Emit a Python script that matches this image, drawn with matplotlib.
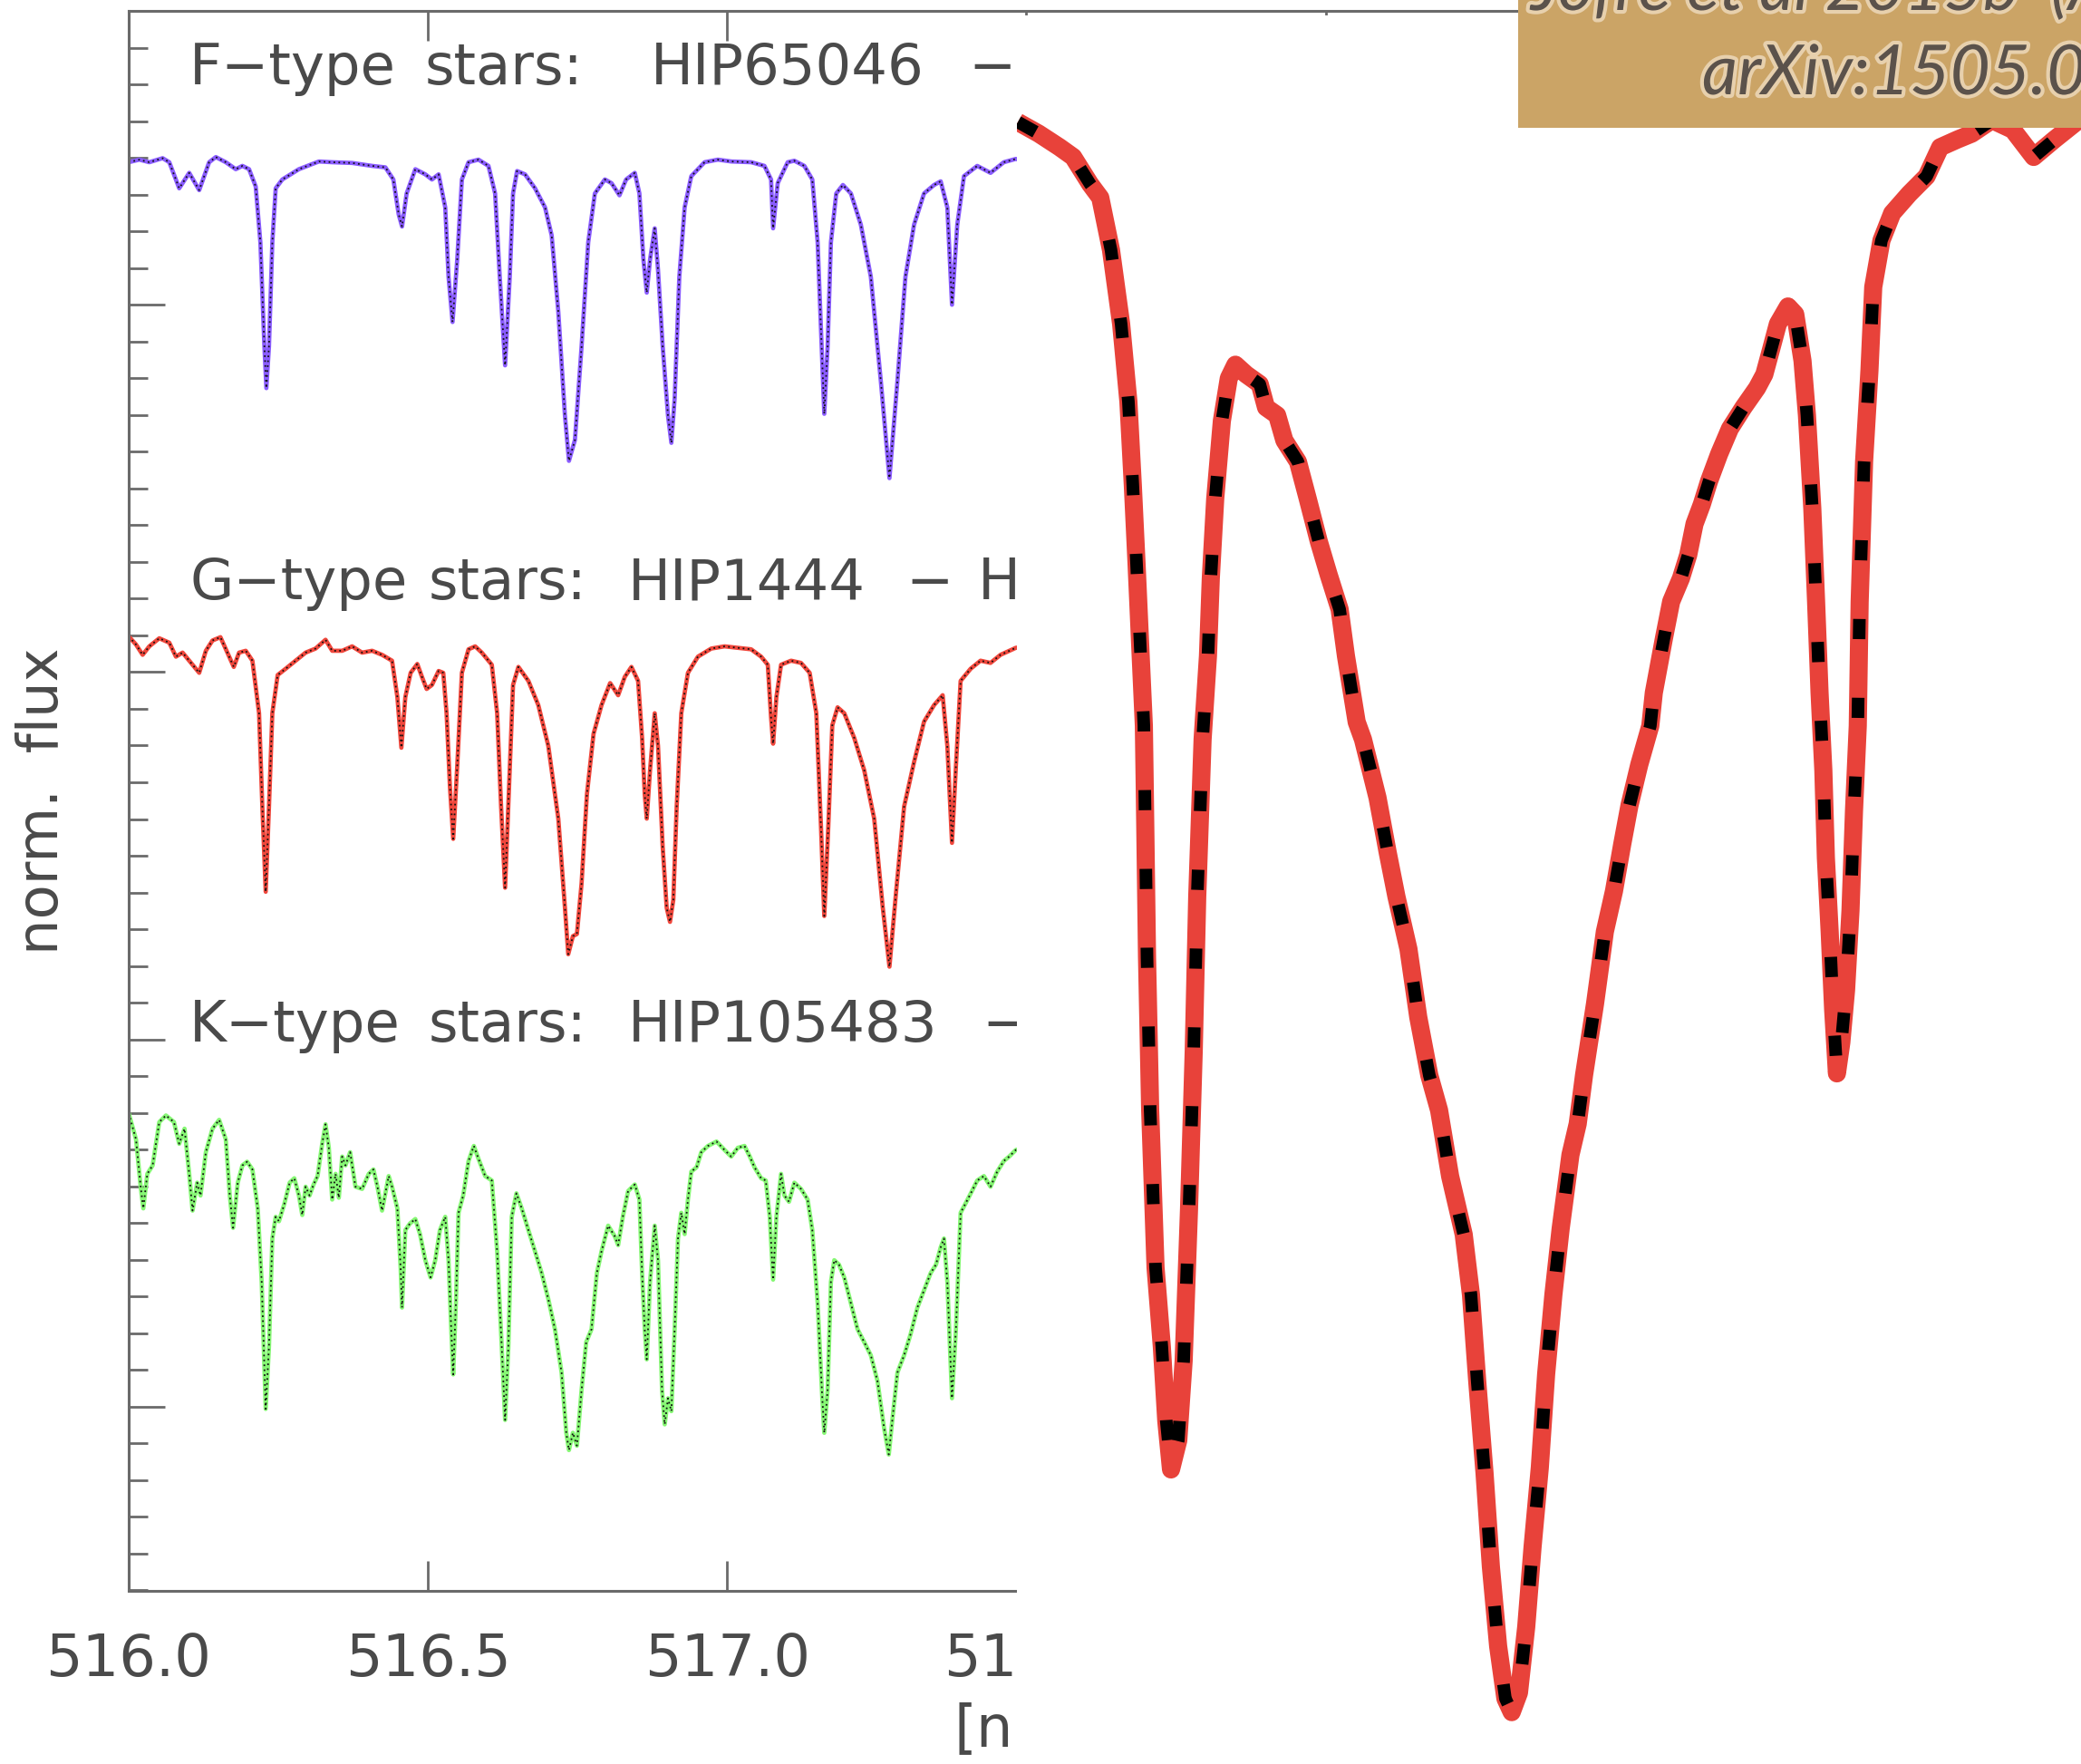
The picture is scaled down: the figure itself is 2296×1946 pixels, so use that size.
import matplotlib
matplotlib.use("Agg")
import matplotlib.pyplot as plt
import matplotlib.patheffects as pe
from matplotlib.patches import Rectangle
from matplotlib.ticker import MultipleLocator

plt.rcParams['lines.scale_dashes'] = False
plt.rcParams['font.family'] = ['DejaVu Sans']

# ---------------------------------------------------------------- data
# F-type star (HIP65046), normalised flux
F_WAVE = [516.0000, 516.0178, 516.0344, 516.0567, 516.0678, 516.0844, 516.1011, 516.1178,
          516.1344, 516.1456, 516.1622, 516.1789, 516.1900, 516.2011, 516.2122, 516.2200,
          516.2267, 516.2300, 516.2344, 516.2400, 516.2456, 516.2567, 516.2844, 516.3178,
          516.3400, 516.3733, 516.4067, 516.4289, 516.4422, 516.4511, 516.4567, 516.4644,
          516.4789, 516.4956, 516.5067, 516.5178, 516.5289, 516.5344, 516.5411, 516.5489,
          516.5567, 516.5678, 516.5844, 516.6011, 516.6122, 516.6200, 516.6289, 516.6367,
          516.6422, 516.6489, 516.6622, 516.6789, 516.6956, 516.7067, 516.7178, 516.7289,
          516.7356, 516.7456, 516.7567, 516.7678, 516.7789, 516.7956, 516.8067, 516.8200,
          516.8311, 516.8456, 516.8533, 516.8600, 516.8656, 516.8711, 516.8789, 516.8844,
          516.8922, 516.9011, 516.9067, 516.9122, 516.9200, 516.9289, 516.9400, 516.9622,
          516.9844, 517.0067, 517.0400, 517.0622, 517.0733, 517.0767, 517.0844, 517.1011,
          517.1122, 517.1289, 517.1422, 517.1511, 517.1578, 517.1622, 517.1678, 517.1733,
          517.1822, 517.1933, 517.2067, 517.2233, 517.2400, 517.2567, 517.2711, 517.2844,
          517.2978, 517.3122, 517.3289, 517.3456, 517.3567, 517.3678, 517.3756, 517.3844,
          517.3956, 517.4178, 517.4400, 517.4622, 517.4822, 517.5000]
F_FLUX = [0.988, 0.995, 0.988, 0.999, 0.988, 0.917, 0.959, 0.912,
          0.988, 1.002, 0.988, 0.969, 0.978, 0.969, 0.922, 0.770,
          0.487, 0.373, 0.487, 0.770, 0.917, 0.941, 0.969, 0.990,
          0.988, 0.986, 0.978, 0.974, 0.941, 0.846, 0.813, 0.903,
          0.969, 0.955, 0.941, 0.955, 0.865, 0.676, 0.553, 0.723,
          0.941, 0.988, 0.995, 0.978, 0.903, 0.676, 0.435, 0.676,
          0.903, 0.964, 0.955, 0.917, 0.865, 0.789, 0.581, 0.298,
          0.175, 0.232, 0.487, 0.770, 0.903, 0.941, 0.931, 0.898,
          0.941, 0.959, 0.903, 0.723, 0.633, 0.723, 0.808, 0.695,
          0.487, 0.298, 0.224, 0.345, 0.676, 0.865, 0.950, 0.988,
          0.995, 0.990, 0.988, 0.978, 0.941, 0.808, 0.931, 0.988,
          0.992, 0.978, 0.941, 0.770, 0.487, 0.303, 0.487, 0.770,
          0.903, 0.926, 0.903, 0.818, 0.676, 0.392, 0.128, 0.392,
          0.676, 0.818, 0.903, 0.926, 0.936, 0.865, 0.600, 0.818,
          0.950, 0.978, 0.959, 0.988, 0.997, 0.990]

# G-type star (HIP1444), normalised flux
G_WAVE = [516.0000, 516.0122, 516.0233, 516.0344, 516.0511, 516.0678, 516.0789, 516.0900,
          516.1011, 516.1178, 516.1289, 516.1400, 516.1533, 516.1678, 516.1756, 516.1844,
          516.1956, 516.2067, 516.2178, 516.2233, 516.2289, 516.2344, 516.2400, 516.2489,
          516.2622, 516.2789, 516.2956, 516.3122, 516.3289, 516.3400, 516.3567, 516.3733,
          516.3900, 516.4067, 516.4233, 516.4400, 516.4489, 516.4556, 516.4622, 516.4711,
          516.4822, 516.4900, 516.4978, 516.5067, 516.5178, 516.5256, 516.5311, 516.5367,
          516.5422, 516.5489, 516.5567, 516.5678, 516.5789, 516.5900, 516.6067, 516.6156,
          516.6222, 516.6289, 516.6356, 516.6422, 516.6511, 516.6678, 516.6844, 516.7011,
          516.7178, 516.7289, 516.7344, 516.7422, 516.7489, 516.7567, 516.7656, 516.7767,
          516.7900, 516.8044, 516.8178, 516.8289, 516.8400, 516.8511, 516.8578, 516.8622,
          516.8656, 516.8711, 516.8789, 516.8844, 516.8922, 516.8989, 516.9044, 516.9100,
          516.9156, 516.9233, 516.9344, 516.9511, 516.9733, 516.9956, 517.0178, 517.0400,
          517.0567, 517.0678, 517.0733, 517.0767, 517.0822, 517.0900, 517.1067, 517.1233,
          517.1378, 517.1489, 517.1567, 517.1622, 517.1689, 517.1756, 517.1844, 517.1956,
          517.2122, 517.2289, 517.2456, 517.2600, 517.2711, 517.2822, 517.2956, 517.3122,
          517.3289, 517.3456, 517.3600, 517.3678, 517.3756, 517.3822, 517.3900, 517.4067,
          517.4233, 517.4400, 517.4567, 517.4822, 517.5000]
G_FLUX = [0.997, 0.975, 0.947, 0.970, 0.992, 0.980, 0.942, 0.953,
          0.931, 0.898, 0.958, 0.986, 0.995, 0.942, 0.914, 0.953,
          0.958, 0.931, 0.788, 0.534, 0.302, 0.534, 0.788, 0.892,
          0.909, 0.931, 0.953, 0.964, 0.988, 0.958, 0.958, 0.970,
          0.953, 0.958, 0.947, 0.931, 0.832, 0.694, 0.832, 0.898,
          0.922, 0.887, 0.854, 0.865, 0.903, 0.898, 0.788, 0.589,
          0.446, 0.644, 0.898, 0.962, 0.970, 0.953, 0.920, 0.788,
          0.534, 0.313, 0.589, 0.865, 0.914, 0.876, 0.810, 0.699,
          0.501, 0.258, 0.132, 0.181, 0.187, 0.325, 0.567, 0.732,
          0.810, 0.870, 0.837, 0.887, 0.914, 0.876, 0.721, 0.567,
          0.501, 0.633, 0.788, 0.699, 0.424, 0.258, 0.220, 0.280,
          0.534, 0.788, 0.898, 0.942, 0.964, 0.970, 0.966, 0.962,
          0.942, 0.920, 0.776, 0.705, 0.832, 0.920, 0.931, 0.925,
          0.898, 0.788, 0.479, 0.236, 0.479, 0.755, 0.804, 0.788,
          0.721, 0.633, 0.501, 0.258, 0.098, 0.302, 0.534, 0.655,
          0.765, 0.810, 0.837, 0.699, 0.435, 0.644, 0.876, 0.909,
          0.931, 0.925, 0.947, 0.966, 0.970]

# K-type star (HIP105483), normalised flux
K_WAVE = [516.0000, 516.0122, 516.0200, 516.0244, 516.0311, 516.0400, 516.0511, 516.0622,
          516.0756, 516.0844, 516.0933, 516.1011, 516.1067, 516.1144, 516.1200, 516.1289,
          516.1400, 516.1511, 516.1622, 516.1689, 516.1744, 516.1822, 516.1900, 516.1978,
          516.2067, 516.2156, 516.2222, 516.2289, 516.2344, 516.2400, 516.2456, 516.2511,
          516.2600, 516.2689, 516.2767, 516.2844, 516.2900, 516.2956, 516.3022, 516.3089,
          516.3156, 516.3233, 516.3289, 516.3344, 516.3400, 516.3456, 516.3511, 516.3567,
          516.3622, 516.3700, 516.3789, 516.3900, 516.4011, 516.4089, 516.4156, 516.4233,
          516.4344, 516.4400, 516.4489, 516.4544, 516.4567, 516.4622, 516.4700, 516.4789,
          516.4867, 516.4956, 516.5044, 516.5122, 516.5200, 516.5289, 516.5344, 516.5389,
          516.5422, 516.5467, 516.5511, 516.5589, 516.5678, 516.5767, 516.5844, 516.5956,
          516.6067, 516.6156, 516.6233, 516.6289, 516.6344, 516.6400, 516.6478, 516.6567,
          516.6678, 516.6789, 516.6900, 516.7011, 516.7122, 516.7233, 516.7311, 516.7356,
          516.7422, 516.7489, 516.7567, 516.7644, 516.7733, 516.7822, 516.7900, 516.8011,
          516.8122, 516.8178, 516.8256, 516.8344, 516.8456, 516.8533, 516.8578, 516.8622,
          516.8656, 516.8711, 516.8789, 516.8844, 516.8911, 516.8956, 516.9011, 516.9067,
          516.9122, 516.9178, 516.9233, 516.9289, 516.9344, 516.9400, 516.9489, 516.9567,
          516.9678, 516.9822, 516.9956, 517.0067, 517.0178, 517.0289, 517.0378, 517.0456,
          517.0567, 517.0644, 517.0711, 517.0767, 517.0822, 517.0900, 517.0956, 517.1033,
          517.1122, 517.1233, 517.1344, 517.1422, 517.1511, 517.1589, 517.1622, 517.1678,
          517.1733, 517.1789, 517.1867, 517.1956, 517.2067, 517.2178, 517.2289, 517.2400,
          517.2511, 517.2622, 517.2700, 517.2767, 517.2844, 517.2956, 517.3067, 517.3178,
          517.3289, 517.3400, 517.3489, 517.3567, 517.3622, 517.3678, 517.3756, 517.3822,
          517.3900, 517.3978, 517.4089, 517.4178, 517.4289, 517.4400, 517.4511, 517.4622,
          517.4711, 517.4822, 517.5000]
K_FLUX = [0.999, 0.928, 0.799, 0.740, 0.834, 0.857, 0.975, 0.993,
          0.975, 0.916, 0.957, 0.834, 0.734, 0.810, 0.775, 0.893,
          0.957, 0.981, 0.928, 0.775, 0.687, 0.810, 0.857, 0.867,
          0.846, 0.740, 0.540, 0.194, 0.364, 0.658, 0.717, 0.705,
          0.752, 0.810, 0.822, 0.775, 0.722, 0.799, 0.775, 0.805,
          0.828, 0.916, 0.969, 0.905, 0.764, 0.834, 0.769, 0.881,
          0.857, 0.893, 0.799, 0.793, 0.834, 0.846, 0.799, 0.734,
          0.828, 0.799, 0.740, 0.576, 0.470, 0.681, 0.699, 0.711,
          0.670, 0.599, 0.552, 0.599, 0.681, 0.717, 0.599, 0.411,
          0.288, 0.482, 0.728, 0.775, 0.869, 0.910, 0.875, 0.828,
          0.816, 0.623, 0.364, 0.164, 0.364, 0.717, 0.781, 0.740,
          0.681, 0.623, 0.564, 0.493, 0.411, 0.293, 0.129, 0.082,
          0.129, 0.094, 0.246, 0.376, 0.411, 0.564, 0.623, 0.693,
          0.664, 0.640, 0.717, 0.787, 0.805, 0.764, 0.564, 0.411,
          0.329, 0.540, 0.693, 0.599, 0.246, 0.152, 0.223, 0.188,
          0.411, 0.658, 0.728, 0.670, 0.764, 0.840, 0.852, 0.893,
          0.910, 0.922, 0.899, 0.881, 0.905, 0.910, 0.881, 0.852,
          0.822, 0.816, 0.717, 0.546, 0.717, 0.834, 0.775, 0.758,
          0.810, 0.793, 0.764, 0.681, 0.482, 0.223, 0.129, 0.246,
          0.540, 0.599, 0.587, 0.552, 0.482, 0.411, 0.376, 0.340,
          0.270, 0.141, 0.070, 0.176, 0.293, 0.340, 0.399, 0.470,
          0.517, 0.564, 0.587, 0.634, 0.658, 0.540, 0.223, 0.411,
          0.728, 0.752, 0.787, 0.816, 0.828, 0.799, 0.840, 0.869,
          0.881, 0.899, 0.905]

# Magnified G-type window around the Mg b2 line
ZOOM_WAVE = [517.1133, 517.1199, 517.1265, 517.1308, 517.1362, 517.1394, 517.1428, 517.1460,
             517.1483, 517.1497, 517.1509, 517.1520, 517.1532, 517.1535, 517.1542, 517.1552,
             517.1569, 517.1589, 517.1603, 517.1618, 517.1641, 517.1658, 517.1675, 517.1690,
             517.1701, 517.1718, 517.1735, 517.1744, 517.1758, 517.1779, 517.1801, 517.1822,
             517.1856, 517.1899, 517.1919, 517.1954, 517.1977, 517.2020, 517.2051, 517.2086,
             517.2117, 517.2152, 517.2172, 517.2206, 517.2226, 517.2272, 517.2304, 517.2332,
             517.2370, 517.2401, 517.2436, 517.2467, 517.2502, 517.2545, 517.2568, 517.2588,
             517.2611, 517.2631, 517.2654, 517.2677, 517.2697, 517.2720, 517.2743, 517.2763,
             517.2786, 517.2806, 517.2829, 517.2852, 517.2883, 517.2906, 517.2926, 517.2961,
             517.2992, 517.3021, 517.3047, 517.3070, 517.3101, 517.3136, 517.3147, 517.3179,
             517.3202, 517.3233, 517.3256, 517.3276, 517.3299, 517.3322, 517.3354, 517.3388,
             517.3431, 517.3474, 517.3497, 517.3517, 517.3540, 517.3572, 517.3595, 517.3618,
             517.3632, 517.3649, 517.3661, 517.3672, 517.3684, 517.3692, 517.3704, 517.3715,
             517.3727, 517.3741, 517.3756, 517.3770, 517.3781, 517.3793, 517.3799, 517.3813,
             517.3830, 517.3842, 517.3868, 517.3902, 517.3956, 517.4011, 517.4054, 517.4109,
             517.4154, 517.4218, 517.4284, 517.4350, 517.4416, 517.4493]
ZOOM_FLUX = [0.968, 0.962, 0.955, 0.950, 0.936, 0.929, 0.902, 0.864,
             0.824, 0.781, 0.740, 0.700, 0.657, 0.623, 0.538, 0.459,
             0.378, 0.337, 0.299, 0.274, 0.289, 0.330, 0.408, 0.490,
             0.569, 0.650, 0.693, 0.733, 0.774, 0.814, 0.836, 0.843,
             0.838, 0.833, 0.821, 0.817, 0.804, 0.793, 0.774, 0.752,
             0.735, 0.717, 0.693, 0.659, 0.650, 0.620, 0.592, 0.569,
             0.542, 0.507, 0.477, 0.459, 0.425, 0.395, 0.364, 0.319,
             0.272, 0.224, 0.183, 0.156, 0.149, 0.159, 0.193, 0.234,
             0.275, 0.323, 0.364, 0.398, 0.436, 0.452, 0.477, 0.514,
             0.551, 0.572, 0.596, 0.616, 0.637, 0.657, 0.674, 0.702,
             0.721, 0.733, 0.745, 0.761, 0.771, 0.783, 0.797, 0.810,
             0.821, 0.831, 0.838, 0.850, 0.864, 0.873, 0.869, 0.845,
             0.817, 0.769, 0.721, 0.674, 0.634, 0.589, 0.551, 0.511,
             0.478, 0.494, 0.521, 0.562, 0.613, 0.657, 0.721, 0.793,
             0.840, 0.883, 0.907, 0.921, 0.931, 0.940, 0.955, 0.959,
             0.962, 0.969, 0.964, 0.950, 0.959, 0.969]

# Panel captions, split into words so each word sits at its own wavelength
STAR_WORDS = [["F\u2212type", "stars:", "HIP65046", "\u2212", "HIP92418"],
              ["G\u2212type", "stars:", "HIP1444", "\u2212", "HIP92418"],
              ["K\u2212type", "stars:", "HIP105483", "\u2212", "HIP92418"]]
X_TICKS = [516.0, 516.5, 517.0, 517.5, 518.0, 518.5, 519.0]
X_TICK_LABELS = ["516.0", "516.5", "517.0", "517.5", "518.0", "518.5", "519.0"]

# ---------------------------------------------------------------- layout
W, H, DPI = 2296, 1946, 100
fig = plt.figure(figsize=(W / DPI, H / DPI), dpi=DPI)
fig.patch.set_facecolor('white')


def fx(px):
    return px / W


def fy(py):
    return 1.0 - py / H


TXT = '#4a4a4a'
AXC = '#6a6a6a'

ax = fig.add_axes([fx(142), fy(1754.5), fx(2123) - fx(142), fy(12) - fy(1754.5)], zorder=1)
ax.set_xlim(516.0, 519.0)
ax.set_ylim(-0.5, 3.8)

offsets = [2.4, 1.1, -0.2]
colours = ['#8a5cff', '#f0473c', '#86f774']
spectra = [(F_WAVE, F_FLUX), (G_WAVE, G_FLUX), (K_WAVE, K_FLUX)]
for (wave, flux), off, col in zip(spectra, offsets, colours):
    shifted = [f + off for f in flux]
    ax.plot(wave, shifted, color=col, lw=3.4, solid_joinstyle='round')
    ax.plot(wave, shifted, color='#111111', lw=1.3, dashes=(1.3, 2.6))

# word start wavelengths for each caption row, and baselines
word_x = [[516.1015, 516.4952, 516.8720, 517.4030, 517.5500],
          [516.1015, 516.5012, 516.8342, 517.2990, 517.4190],
          [516.1015, 516.5012, 516.8342, 517.4250, 517.5800]]
label_y = [3.599, 2.198, 0.995]
for words, xs, y in zip(STAR_WORDS, word_x, label_y):
    for w, x in zip(words, xs):
        ax.text(x, y, w, fontsize=45, color=TXT, va='baseline', ha='left')

for s in ax.spines.values():
    s.set_color(AXC)
    s.set_linewidth(2.2)

ax.set_xticks(X_TICKS)
ax.set_xticklabels(X_TICK_LABELS)
ax.tick_params(axis='x', which='major', direction='in', length=24, width=2.0,
               color=AXC, top=True, bottom=True, labelsize=46, labelcolor=TXT, pad=33)
ax.yaxis.set_major_locator(MultipleLocator(1.0))
ax.yaxis.set_minor_locator(MultipleLocator(0.1))
ax.tick_params(axis='y', which='major', direction='in', length=29, width=2.0,
               color=AXC, left=True, right=False, labelleft=False)
ax.tick_params(axis='y', which='minor', direction='in', length=15, width=2.0,
               color=AXC, left=True, right=False)

ax.text((1052 - 142) / (2123 - 142), -(1926 - 1754.5) / (1754.5 - 12),
        "[nm]", transform=ax.transAxes, fontsize=46, color=TXT,
        ha='left', va='baseline', clip_on=False)

fig.text(fx(47), fy(884), "norm.  flux", rotation=90, fontsize=45, color=TXT,
         ha='center', va='center')

# ---------------------------------------------------------------- magnified window
ov = fig.add_axes([fx(1122), 0.0, 1.0 - fx(1122), fy(17)], zorder=2)
ov.set_facecolor('white')
ov.set_xlim(517.113, 517.450)
ov.set_ylim(0.1223, 1.0229)
ov.set_xticks([])
ov.set_yticks([])
for s in ov.spines.values():
    s.set_visible(False)
ov.plot(ZOOM_WAVE, ZOOM_FLUX, color='#e8423a', lw=14.4, solid_joinstyle='round',
        solid_capstyle='butt')
ov.plot(ZOOM_WAVE, ZOOM_FLUX, color='black', lw=10.0, dashes=(16, 46.6),
        dash_capstyle='butt')

# ---------------------------------------------------------------- citation box
fig.add_artist(Rectangle((fx(1675), fy(141)), 1.0 - fx(1675), fy(0) - fy(141),
                         transform=fig.transFigure, facecolor='#cba466',
                         edgecolor='none', zorder=5))
glow = [pe.withStroke(linewidth=6, foreground='#efdcc0', alpha=0.8)]
fig.text(fx(1689), fy(11), "Jofr\u00e9 et al 2015b  (A&A 582, A81)", fontsize=54,
         family=['Lato', 'DejaVu Sans'], style='italic', color='#5b524b',
         ha='left', va='baseline', zorder=6, path_effects=glow)
fig.text(fx(1878), fy(104), "arXiv:1505.07019)", fontsize=55,
         family=['Lato', 'DejaVu Sans'], style='italic', color='#5b524b',
         ha='left', va='baseline', zorder=6, path_effects=glow)

fig.savefig("out.png", dpi=DPI, facecolor='white')
